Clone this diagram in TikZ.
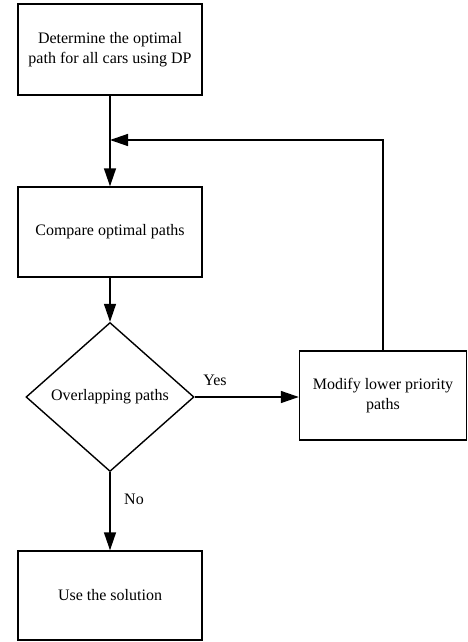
\documentclass[tikz,border=0pt]{standalone}
\usepackage{fontspec}
\setmainfont{Liberation Serif}
\usetikzlibrary{shapes.geometric,arrows.meta}
\begin{document}
\begin{tikzpicture}[x=1pt,y=-1pt,
  every node/.style={font=\fontsize{16}{20}\selectfont},
  stepbox/.style={draw,line width=1.4pt,rectangle,align=center,inner sep=0pt},
  decision/.style={draw,line width=1.4pt,diamond,aspect=1.13,inner sep=0pt,minimum width=168pt,minimum height=149pt},
  flow/.style={line width=1.4pt,-{Triangle[length=18pt,width=12pt]}},
  lbl/.style={inner sep=0pt}]
\useasboundingbox (0,0) rectangle (467,642);
\node[stepbox,minimum width=184pt,minimum height=91pt] (det) at (110,49.5) {Determine the optimal\\path for all cars using DP};
\node[stepbox,minimum width=184pt,minimum height=90pt] (cmp) at (110,232) {Compare optimal paths};
\node[decision] (ovl) at (110,397) {Overlapping paths};
\node[stepbox,minimum width=167pt,minimum height=89pt] (mod) at (383,395.5) {Modify lower priority\\paths};
\node[stepbox,minimum width=184pt,minimum height=89pt] (use) at (110,595.5) {Use the solution};
\coordinate (j) at (110,140);
\draw[flow] (det.south) -- (cmp.north);
\draw[flow] (cmp.south) -- (ovl.north);
\draw[flow] (ovl.east) -- (ovl.east -| mod.west);
\draw[flow] (ovl.south) -- (use.north);
\draw[flow] (mod.north) |- (j);
\node[lbl] (yes) at (215,380) {Yes};
\node[lbl] (no) at (134,499) {No};
\end{tikzpicture}
\end{document}
